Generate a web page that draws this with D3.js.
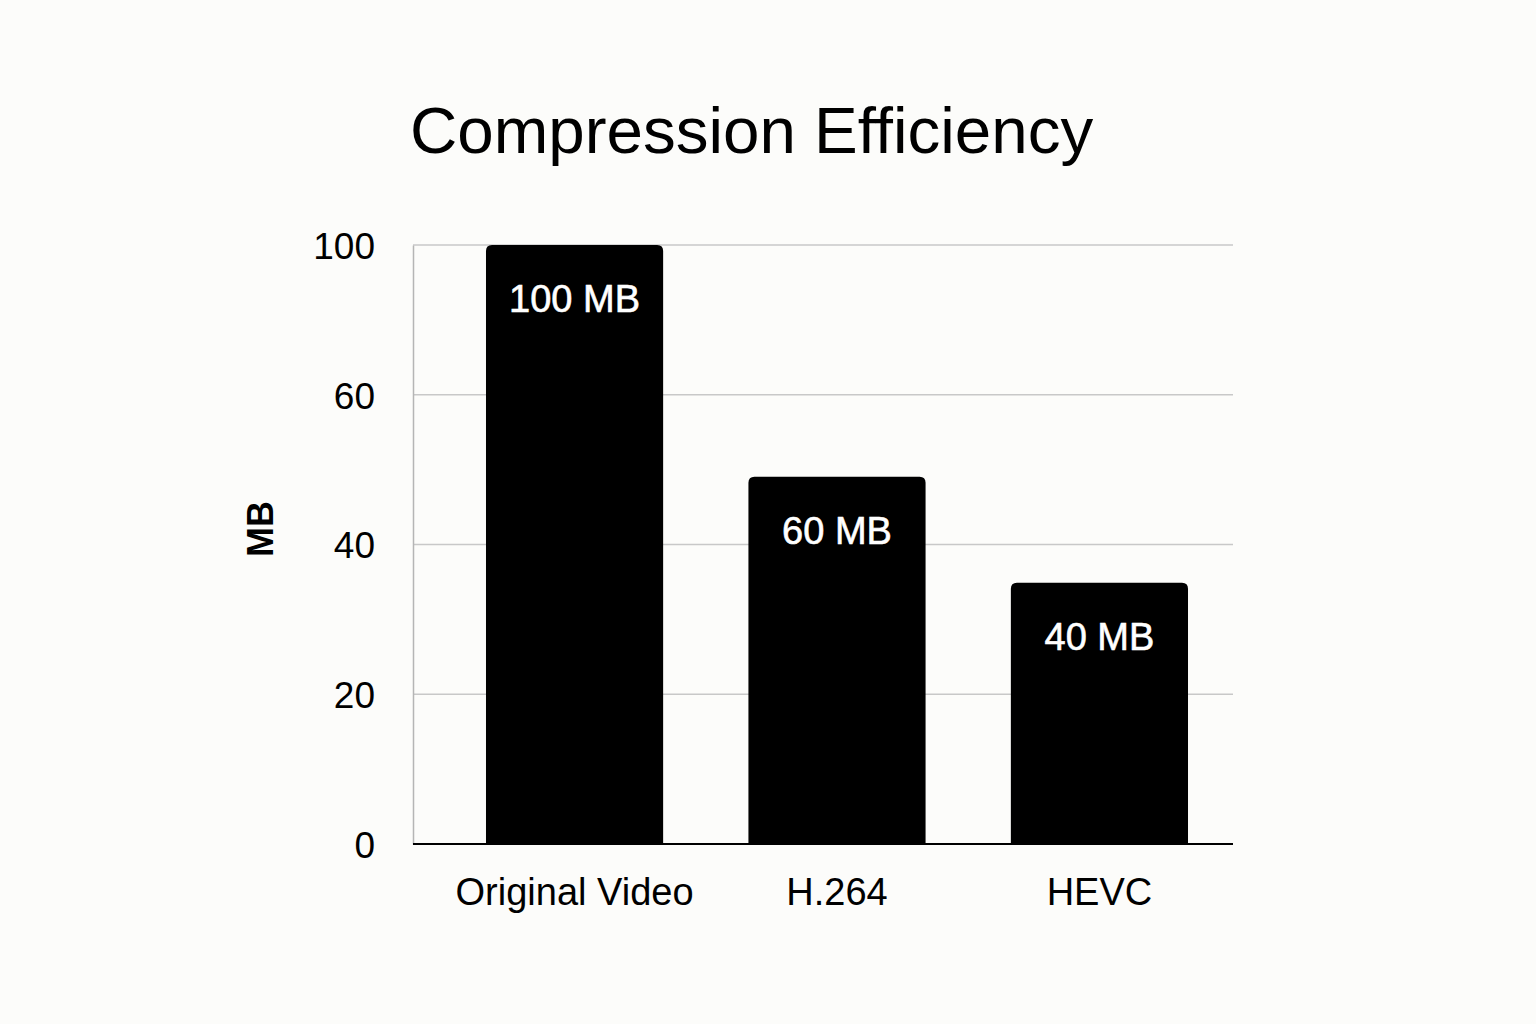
<!DOCTYPE html>
<html>
<head>
<meta charset="utf-8">
<script src="https://cdn.jsdelivr.net/npm/d3@7"></script>
<style>
  html, body { margin: 0; padding: 0; background: #fcfcfa; }
  svg { display: block; font-family: "Liberation Sans", Arial, sans-serif; }
</style>
</head>
<body>
<div id="chart"></div>
<script>
// data
const categories = ["Original Video", "H.264", "HEVC"]
const sizes = [100, 61.3, 43.6]          // bar heights on the chart's own 0..100 scale
const sizeLabels = ["100 MB", "60 MB", "40 MB"]
const tickValues = [0, 25, 50, 75, 100]
const tickLabels = ["0", "20", "40", "60", "100"]

const WIDTH = 1536
const HEIGHT = 1024
const PLOT = { LEFT: 413, RIGHT: 1233, TOP: 245, BOTTOM: 844 }

const svg = d3.select("#chart")
  .append("svg")
  .attr("width", WIDTH)
  .attr("height", HEIGHT)

svg.append("rect")
  .attr("width", WIDTH)
  .attr("height", HEIGHT)
  .attr("fill", "#fcfcfa")

// title
svg.append("text")
  .attr("x", 410)
  .attr("y", 153)
  .attr("font-size", "65.5px")
  .attr("fill", "#000")
  .text("Compression Efficiency")

const x = d3.scaleBand()
  .domain(categories)
  .range([444, 1230])
  .paddingInner(0.325)
  .paddingOuter(0.16)

const y = d3.scaleLinear()
  .domain([0, 100])
  .range([PLOT.BOTTOM, PLOT.TOP])

// gridlines
svg.append("g")
  .selectAll("line")
  .data(tickValues.filter(d => d > 0))
  .enter().append("line")
  .attr("x1", PLOT.LEFT)
  .attr("x2", PLOT.RIGHT)
  .attr("y1", d => y(d))
  .attr("y2", d => y(d))
  .attr("stroke", "#c8c8c8")
  .attr("stroke-width", 1.5)

// y axis
const yAxisCall = d3.axisLeft(y)
  .tickValues(tickValues)
  .tickSize(0)
  .tickPadding(38)
  .tickFormat((d, i) => tickLabels[i])
const yAxis = svg.append("g")
  .attr("transform", `translate(${PLOT.LEFT}, 0)`)
  .call(yAxisCall)
yAxis.select(".domain")
  .attr("stroke", "#b5b5b5")
  .attr("stroke-width", 1.5)
yAxis.selectAll("text")
  .attr("font-size", "37px")
  .attr("font-family", "Liberation Sans, Arial, sans-serif")
  .attr("fill", "#000")
  .attr("dy", "0.36em")

// y label
svg.append("text")
  .attr("transform", "translate(273, 529) rotate(-90)")
  .attr("text-anchor", "middle")
  .attr("font-size", "36px")
  .attr("font-weight", "bold")
  .text("MB")

// bars with rounded top corners
const r = 6
const barPath = d => {
  const x0 = x(d.cat), x1 = x0 + x.bandwidth()
  const y0 = y(d.v), y1 = y(0)
  return `M${x0},${y1}V${y0 + r}Q${x0},${y0} ${x0 + r},${y0}H${x1 - r}Q${x1},${y0} ${x1},${y0 + r}V${y1}Z`
}
const data = categories.map((c, i) => ({ cat: c, v: sizes[i], label: sizeLabels[i] }))

svg.append("g")
  .selectAll("path")
  .data(data)
  .enter().append("path")
  .attr("d", barPath)
  .attr("fill", "#000")

svg.append("g")
  .selectAll("text")
  .data(data)
  .enter().append("text")
  .attr("x", d => x(d.cat) + x.bandwidth() / 2)
  .attr("y", d => y(d.v) + 67)
  .attr("text-anchor", "middle")
  .attr("font-size", "38px")
  .attr("fill", "#fff")
  .attr("stroke", "#fff")
  .attr("stroke-width", 0.6)
  .text(d => d.label)

// baseline
svg.append("line")
  .attr("x1", PLOT.LEFT)
  .attr("x2", PLOT.RIGHT)
  .attr("y1", y(0))
  .attr("y2", y(0))
  .attr("stroke", "#000")
  .attr("stroke-width", 2)

// x axis labels
const xAxisCall = d3.axisBottom(x).tickSize(0).tickPadding(0)
const xAxis = svg.append("g")
  .attr("transform", `translate(0, ${y(0)})`)
  .call(xAxisCall)
xAxis.select(".domain").remove()
xAxis.selectAll("text")
  .attr("font-size", "38px")
  .attr("font-family", "Liberation Sans, Arial, sans-serif")
  .attr("fill", "#000")
  .attr("dy", null)
  .attr("y", 61)
</script>
</body>
</html>
